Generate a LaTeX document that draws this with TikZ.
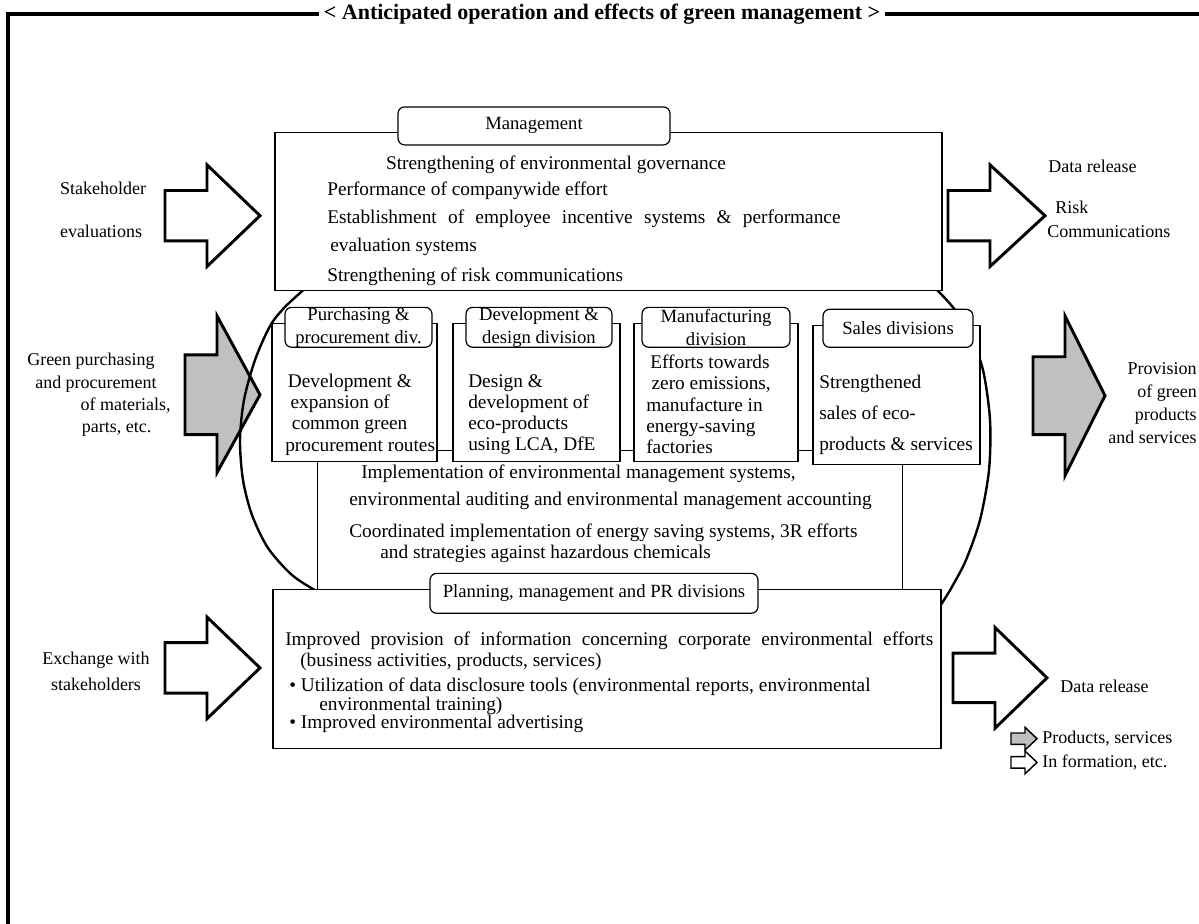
\documentclass[tikz,border=0pt]{standalone}
\usepackage{fontspec}
\setmainfont{Liberation Serif}
\usetikzlibrary{positioning}
\definecolor{arrowgray}{RGB}{192,192,192}

\begin{document}
\begin{tikzpicture}[x=0.75pt,y=-0.75pt,
  box node/.style={draw,line width=0.9pt,fill=white,inner sep=0pt},
  tab node/.style={draw,line width=0.9pt,fill=white,rounded corners=5pt,align=center,inner sep=0pt,font=\fontsize{14}{17}\selectfont},
  info arrow/.style={draw,line width=2.2pt,fill=white},
  goods arrow/.style={draw,line width=2.2pt,fill=arrowgray},
  ring line/.style={line width=1.8pt},
  side text/.style={inner sep=0pt,font=\fontsize{13.5}{18}\selectfont},
  body text/.style={inner sep=0pt,anchor=west,font=\fontsize{14.5}{17}\selectfont}]
					\useasboundingbox (0,0) rectangle (1199,924);
					% frame and title
					\draw[line width=2.6pt] (8,924) -- (8,14) -- (1199,14);
					\node[fill=white,inner xsep=4pt,font=\fontsize{16.5}{19}\selectfont\bfseries] (TITLE) at (602,14) {< Anticipated operation and effects of green management >};
					% block arrows
					\draw[info arrow] (165,190.5) -- (207,190.5) -- (207,164.85) -- (260,215.7) -- (207,266.5) -- (207,240.85) -- (165,240.85) -- cycle;
					\draw[info arrow] (165,642.7) -- (207,642.7) -- (207,617.05) -- (260,667.9) -- (207,718.7) -- (207,693.05) -- (165,693.05) -- cycle;
					\draw[info arrow] (948,190.5) -- (990,190.5) -- (990,164.85) -- (1045,215.7) -- (990,266.5) -- (990,240.85) -- (948,240.85) -- cycle;
					\draw[info arrow] (953,653.15) -- (995,653.15) -- (995,627.5) -- (1047,677.85) -- (995,728.2) -- (995,702.55) -- (953,702.55) -- cycle;
					\draw[goods arrow] (185,354.85) -- (217,354.85) -- (217,315.9) -- (260,394.75) -- (217,472.65) -- (217,434.65) -- (185,434.65) -- cycle;
					\draw[goods arrow] (1033,356.75) -- (1065,356.75) -- (1065,315.9) -- (1105,395.7) -- (1065,475.5) -- (1065,434.65) -- (1033,434.65) -- cycle;
					% ring and core
					\draw[ring line] plot[smooth] coordinates {(312,282) (300,293) (284,308) (270,326) (255,360) (244,400) (240,440) (243,480) (252,515) (268,548) (292,575) (318,592) (330,598)};
					\draw[ring line] plot[smooth] coordinates {(928,282) (940,293) (955,310) (970,335) (983,370) (990,420) (989,470) (980,520) (966,560) (953,585) (944,600) (936,612)};
					\node[fill=white,minimum width=438pt,minimum height=224.4pt,inner sep=0pt] (CORE) at (610,439.9) {};
					% management
					\node[box node,minimum width=500.25pt,minimum height=118.3pt] (MG) at (608.5,211.4) {};
					\node[tab node,minimum width=204pt,minimum height=28.5pt] (MGtab) at (534,125.9) {Management};
					\node[body text,anchor=center] (MG1) at (556,164.9) {Strengthening of environmental governance};
					\node[body text] (MG2) at (327,190.5) {Performance of companywide effort};
					\node[body text] (MG3) at (327,219) {\makebox[385pt][s]{Establishment of employee incentive systems \& performance}};
					\node[body text] (MG4) at (330,246.6) {evaluation systems};
					\node[body text] (MG5) at (327,277) {Strengthening of risk communications};
					% divisions
					\node[box node,minimum width=123.75pt,minimum height=103.3pt] (PP) at (354.5,392.4) {};
					\node[box node,minimum width=125.25pt,minimum height=103.3pt] (DD) at (536.5,392.4) {};
					\node[box node,minimum width=123pt,minimum height=103.3pt] (MF) at (716,392.4) {};
					\node[box node,minimum width=125.25pt,minimum height=104pt] (SD) at (896.5,394.8) {};
					\node[tab node,minimum width=110.25pt,minimum height=29.9pt] (PPtab) at (358.5,327.3) {Purchasing \&\\procurement div.};
					\node[tab node,minimum width=109.5pt,minimum height=29.9pt] (DDtab) at (539,327.3) {Development \&\\design division};
					\node[tab node,minimum width=111pt,minimum height=29.9pt] (MFtab) at (716,327.3) {Manufacturing\\division};
					\node[tab node,minimum width=112.5pt,minimum height=28.5pt] (SDtab) at (898,328.3) {Sales divisions};
					\node[body text,align=left,font=\fontsize{14.5}{15.9}\selectfont] (PPtxt) at (285,414.7) {\hspace*{2pt}Development \&\\\hspace*{4pt}expansion of\\\hspace*{5pt}common green\\procurement routes};
					\node[body text,align=left,font=\fontsize{14.5}{15.9}\selectfont] (DDtxt) at (468,414.7) {Design \&\\development of\\eco-products\\using LCA, DfE};
					\node[body text,align=left,font=\fontsize{14.5}{15.9}\selectfont] (MFtxt) at (646,404.3) {\hspace*{3pt}Efforts towards\\\hspace*{4pt}zero emissions,\\manufacture in\\energy-saving\\factories};
					\node[body text,align=left,font=\fontsize{14.5}{23.5}\selectfont] (SDtxt) at (819,414.7) {Strengthened\\sales of eco-\\products \& services};
					\draw[line width=0.9pt] ([yshift=8.5pt]PP.south east) -- ([yshift=8.5pt]PP.south east -| DD.west);
					\draw[line width=0.9pt] ([yshift=8.5pt]DD.south east) -- ([yshift=8.5pt]DD.south east -| MF.west);
					\draw[line width=0.9pt] ([yshift=8.5pt]MF.south east) -- ([yshift=8.5pt]MF.south east -| SD.west);
					% core texts
					\draw[line width=0.9pt] (PP.south -| CORE.west) -- (CORE.south west);
					\draw[line width=0.9pt] (SD.south -| CORE.east) -- (CORE.south east);
					\node[body text] (CO1) at (361,473.6) {Implementation of environmental management systems,};
					\node[body text] (CO2) at (349,501.2) {environmental auditing and environmental management accounting};
					\node[body text] (CO3) at (349,532.5) {Coordinated implementation of energy saving systems, 3R efforts};
					\node[body text] (CO4) at (380,553.4) {and strategies against hazardous chemicals};
					% planning, management and PR
					\node[box node,minimum width=501pt,minimum height=119pt] (PM) at (607,668.8) {};
					\node[tab node,minimum width=246pt,minimum height=29.9pt] (PMtab) at (594,593.3) {Planning, management and PR divisions};
					\node[body text] (PM1) at (285,640.8) {\makebox[486pt][s]{Improved provision of information concerning corporate environmental efforts}};
					\node[body text] (PM2) at (300,661.7) {(business activities, products, services)};
					\node[body text] (PM3) at (289,686.4) {\makebox[436pt][s]{\textbullet\ Utilization of data disclosure tools (environmental reports, environmental}};
					\node[body text] (PM4) at (319,705.4) {environmental training)};
					\node[body text] (PM5) at (289,723.4) {\textbullet\ Improved environmental advertising};
					% outside labels
					\node[side text,align=left,font=\fontsize{13.5}{32}\selectfont] (EVAL) at (103,210) {Stakeholder\\evaluations};
					\node[side text,align=left,anchor=west,font=\fontsize{13.5}{16.6}\selectfont] (GREEN) at (27,394.75) {Green purchasing\\\hspace*{6pt}and procurement\\\hspace*{40pt}of materials,\\\hspace*{41pt}parts, etc.};
					\node[side text,align=center,font=\fontsize{13.5}{20}\selectfont] (EXCH) at (96,671.2) {Exchange with\\stakeholders};
					\node[side text,anchor=west] (REL1) at (1048,166.75) {Data release};
					\node[side text,align=left,anchor=west,font=\fontsize{13.5}{17.8}\selectfont] (RISK) at (1047,219.5) {\hspace*{6pt}Risk\\Communications};
					\node[side text,align=right,anchor=east,font=\fontsize{13.5}{17.1}\selectfont] (PROV) at (1197,403.3) {Provision\\of green\\products\\and services};
					\node[side text,anchor=west] (REL2) at (1060,686.4) {Data release};
					% legend
					\draw[line width=1.1pt,fill=arrowgray] (1011,733) -- (1025,733) -- (1025,727.3) -- (1037,738.7) -- (1025,750) -- (1025,744.4) -- (1011,744.4) -- cycle;
					\draw[line width=1.1pt,fill=white] (1011,756.7) -- (1025,756.7) -- (1025,751) -- (1037,762.4) -- (1025,773.8) -- (1025,768.1) -- (1011,768.1) -- cycle;
					\node[side text,anchor=west] (LEG1) at (1042,738.7) {Products, services};
					\node[side text,anchor=west] (LEG2) at (1042,762.4) {In formation, etc.};
\end{tikzpicture}
\end{document}
